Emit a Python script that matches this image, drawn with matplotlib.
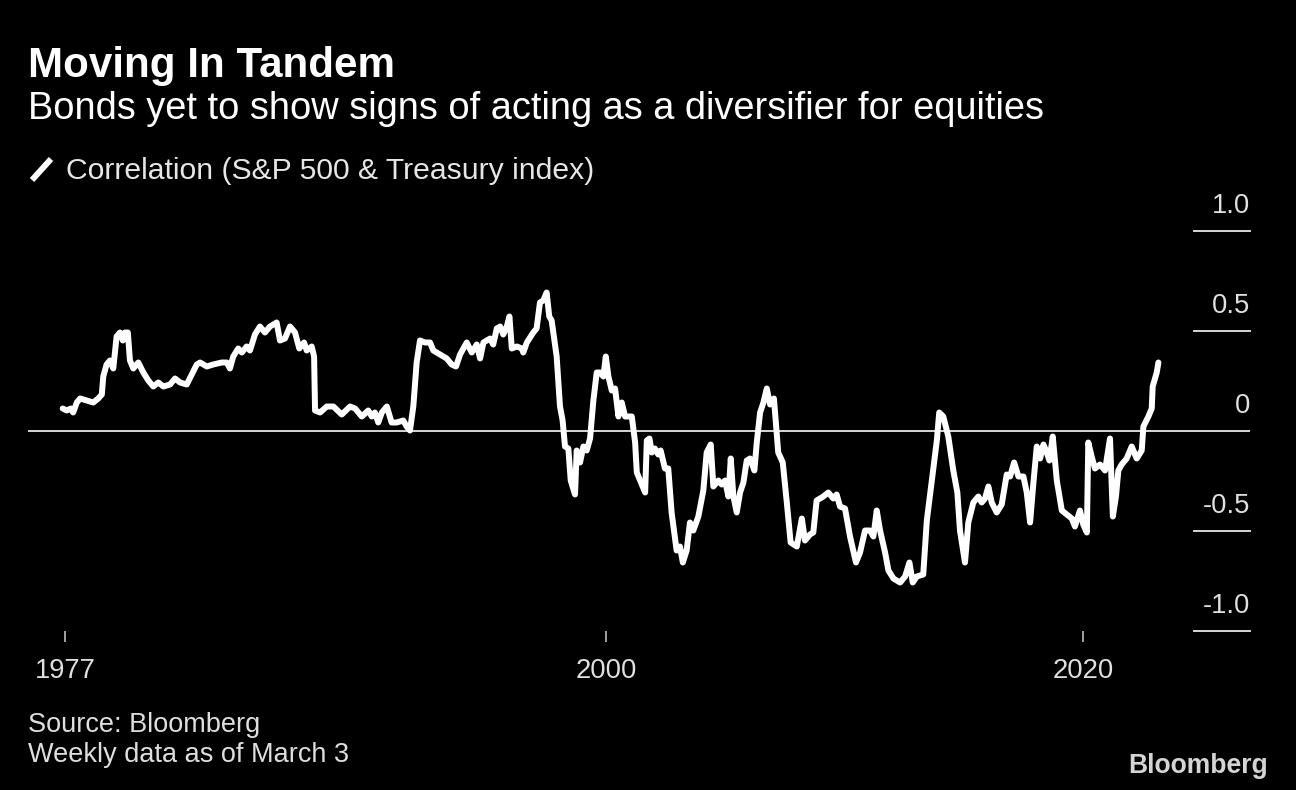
import matplotlib.pyplot as plt
from matplotlib.lines import Line2D

plt.rcParams['font.family'] = ['Liberation Sans', 'DejaVu Sans']

# ------------------------------------------------------------------
# DATI
# ------------------------------------------------------------------
years = [
    1977.22, 1977.39, 1977.56, 1977.66, 1977.81, 1977.95, 1978.23, 1978.50, 1978.71, 1978.86,
    1978.92, 1979.06, 1979.20, 1979.34, 1979.48, 1979.62, 1979.74, 1979.83, 1979.95, 1980.04,
    1980.18, 1980.39, 1980.60, 1980.81, 1981.02, 1981.23, 1981.44, 1981.72, 1981.93, 1982.14,
    1982.42, 1982.63, 1982.84, 1982.98, 1983.26, 1983.53, 1983.89, 1984.10, 1984.23, 1984.37,
    1984.58, 1984.73, 1984.93, 1985.07, 1985.28, 1985.49, 1985.70, 1985.91, 1986.05, 1986.19,
    1986.33, 1986.54, 1986.75, 1986.96, 1987.14, 1987.34, 1987.45, 1987.66, 1987.76, 1987.80,
    1988.01, 1988.29, 1988.57, 1988.92, 1989.27, 1989.48, 1989.76, 1990.03, 1990.18, 1990.31,
    1990.45, 1990.60, 1990.81, 1991.01, 1991.22, 1991.50, 1991.64, 1991.78, 1991.92, 1992.06,
    1992.20, 1992.41, 1992.62, 1992.76, 1993.04, 1993.32, 1993.53, 1993.71, 1993.88, 1994.16,
    1994.37, 1994.58, 1994.72, 1994.86, 1995.14, 1995.27, 1995.42, 1995.56, 1995.69, 1995.84,
    1995.95, 1996.05, 1996.26, 1996.47, 1996.53, 1996.68, 1996.95, 1997.09, 1997.23, 1997.37,
    1997.51, 1997.62, 1997.72, 1997.93, 1998.07, 1998.18, 1998.28, 1998.42, 1998.52, 1998.70,
    1998.77, 1998.91, 1999.05, 1999.19, 1999.33, 1999.47, 1999.61, 1999.75, 1999.89, 1999.99,
    2000.10, 2000.24, 2000.38, 2000.52, 2000.66, 2000.80, 2001.08, 2001.22, 2001.29, 2001.43,
    2001.64, 2001.71, 2001.82, 2001.92, 2002.05, 2002.19, 2002.29, 2002.47, 2002.61, 2002.75,
    2002.96, 2003.10, 2003.22, 2003.38, 2003.52, 2003.66, 2003.87, 2004.08, 2004.22, 2004.39,
    2004.50, 2004.71, 2004.85, 2004.99, 2005.13, 2005.23, 2005.34, 2005.48, 2005.62, 2005.76,
    2005.90, 2006.04, 2006.22, 2006.32, 2006.46, 2006.60, 2006.74, 2006.88, 2007.04, 2007.22,
    2007.41, 2007.58, 2007.74, 2008.00, 2008.21, 2008.34, 2008.55, 2008.69, 2008.83, 2009.11,
    2009.32, 2009.53, 2009.67, 2009.81, 2010.02, 2010.23, 2010.48, 2010.65, 2010.86, 2011.07,
    2011.21, 2011.35, 2011.49, 2011.70, 2011.84, 2012.05, 2012.33, 2012.54, 2012.72, 2012.86,
    2013.03, 2013.30, 2013.45, 2013.66, 2013.87, 2013.97, 2014.14, 2014.35, 2014.56, 2014.73,
    2014.84, 2015.05, 2015.19, 2015.40, 2015.61, 2015.75, 2015.89, 2016.03, 2016.17, 2016.38,
    2016.59, 2016.80, 2016.94, 2017.11, 2017.29, 2017.50, 2017.64, 2017.78, 2017.92, 2018.06,
    2018.20, 2018.34, 2018.48, 2018.59, 2018.73, 2018.90, 2019.11, 2019.32, 2019.53, 2019.66,
    2019.87, 2020.01, 2020.16, 2020.22, 2020.36, 2020.50, 2020.71, 2020.92, 2021.13, 2021.25,
    2021.38, 2021.48, 2021.62, 2021.83, 2022.04, 2022.25, 2022.46, 2022.53, 2022.74, 2022.88,
    2022.92, 2023.09, 2023.16,
]
corr = [
    0.11, 0.10, 0.11, 0.09, 0.14, 0.16, 0.15, 0.14, 0.16, 0.18,
    0.27, 0.33, 0.35, 0.31, 0.47, 0.49, 0.45, 0.49, 0.49, 0.35,
    0.31, 0.34, 0.29, 0.25, 0.22, 0.24, 0.22, 0.23, 0.26, 0.24,
    0.23, 0.28, 0.33, 0.34, 0.32, 0.33, 0.34, 0.34, 0.31, 0.37,
    0.41, 0.39, 0.42, 0.40, 0.48, 0.52, 0.49, 0.52, 0.53, 0.54,
    0.45, 0.46, 0.52, 0.49, 0.41, 0.44, 0.40, 0.42, 0.37, 0.10,
    0.09, 0.12, 0.12, 0.08, 0.12, 0.11, 0.07, 0.10, 0.07, 0.09,
    0.04, 0.09, 0.12, 0.04, 0.04, 0.05, 0.02, 0.00, 0.12, 0.34,
    0.45, 0.44, 0.44, 0.40, 0.38, 0.36, 0.33, 0.32, 0.38, 0.44,
    0.39, 0.43, 0.36, 0.44, 0.46, 0.43, 0.51, 0.52, 0.48, 0.52,
    0.57, 0.41, 0.42, 0.41, 0.39, 0.44, 0.49, 0.51, 0.64, 0.65,
    0.69, 0.57, 0.55, 0.37, 0.12, 0.05, -0.08, -0.09, -0.25, -0.32,
    -0.10, -0.16, -0.08, -0.10, -0.04, 0.15, 0.29, 0.29, 0.27, 0.37,
    0.27, 0.20, 0.21, 0.07, 0.14, 0.07, 0.07, -0.06, -0.21, -0.25,
    -0.31, -0.05, -0.04, -0.11, -0.09, -0.12, -0.10, -0.19, -0.19, -0.41,
    -0.60, -0.58, -0.66, -0.60, -0.46, -0.50, -0.43, -0.30, -0.11, -0.07,
    -0.28, -0.25, -0.27, -0.25, -0.33, -0.14, -0.33, -0.41, -0.31, -0.26,
    -0.15, -0.14, -0.20, -0.06, 0.09, 0.14, 0.21, 0.13, 0.16, -0.11,
    -0.16, -0.36, -0.56, -0.58, -0.44, -0.55, -0.52, -0.51, -0.35, -0.33,
    -0.31, -0.34, -0.32, -0.38, -0.39, -0.53, -0.66, -0.61, -0.50, -0.50,
    -0.53, -0.40, -0.50, -0.61, -0.70, -0.74, -0.76, -0.73, -0.66, -0.76,
    -0.73, -0.72, -0.45, -0.25, -0.05, 0.09, 0.07, -0.03, -0.20, -0.31,
    -0.50, -0.66, -0.46, -0.36, -0.33, -0.36, -0.34, -0.28, -0.36, -0.41,
    -0.37, -0.22, -0.23, -0.16, -0.23, -0.23, -0.31, -0.46, -0.26, -0.08,
    -0.14, -0.07, -0.11, -0.15, -0.03, -0.25, -0.40, -0.42, -0.44, -0.48,
    -0.40, -0.47, -0.51, -0.06, -0.13, -0.19, -0.17, -0.20, -0.04, -0.43,
    -0.33, -0.20, -0.17, -0.14, -0.08, -0.14, -0.10, 0.02, 0.07, 0.11,
    0.22, 0.29, 0.34,
]

x_ticks = [1977.32, 2000, 2020]
x_tick_labels = ['1977', '2000', '2020']
y_levels = [1.0, 0.5, 0.0, -0.5, -1.0]
y_level_labels = ['1.0', '0.5', '0', '-0.5', '-1.0']

# ------------------------------------------------------------------
# FIGURA
# ------------------------------------------------------------------
W, H = 1296, 790
fig = plt.figure(figsize=(W / 100, H / 100), dpi=100, facecolor='black')

ax = fig.add_axes([28 / W, 1 - 630.5 / H, (1250 - 28) / W, 400 / H])
ax.set_facecolor('black')
ax.set_xlim(1975.765, 2027.0)
ax.set_ylim(-1, 1)
for s in ax.spines.values():
    s.set_visible(False)

ax.plot(years, corr, color='white', lw=4.3,
        solid_joinstyle='round', solid_capstyle='round', zorder=3)
ax.axhline(0, color='#d6d6d6', lw=1.4, zorder=2)

# etichette asse y a destra, sopra brevi segmenti
ytrans = ax.get_yaxis_transform()
for v, lab in zip(y_levels, y_level_labels):
    if v != 0:
        ax.plot([0.954, 1.0], [v, v], transform=ytrans, color='#d6d6d6',
                lw=1.4, clip_on=False)
    ax.annotate(lab, xy=(1.0, v), xycoords=ytrans, xytext=(0, 12.5),
                textcoords='offset points', ha='right', va='baseline',
                color='#e0e0e0', fontsize=19.7)
ax.set_yticks([])

ax.set_xticks(x_ticks)
ax.set_xticklabels(x_tick_labels)
ax.tick_params(axis='x', direction='out', length=8, width=1.1, color='#cccccc',
               labelcolor='#e0e0e0', labelsize=19.7, pad=12)

# ------------------------------------------------------------------
# TESTI
# ------------------------------------------------------------------
fig.text(28 / W, 1 - 77 / H, 'Moving In Tandem', fontsize=30.3,
         fontweight='bold', color='white', va='baseline')
fig.text(28 / W, 1 - 119 / H,
         'Bonds yet to show signs of acting as a diversifier for equities',
         fontsize=27.4, color='white', va='baseline')

fig.add_artist(Line2D([32 / W, 51 / W], [1 - 180 / H, 1 - 159 / H],
                      color='white', lw=4.3, solid_capstyle='butt'))
fig.text(66 / W, 1 - 179 / H, 'Correlation (S&P 500 & Treasury index)',
         fontsize=21.7, color='#e6e6e6', va='baseline')

fig.text(28 / W, 1 - 732 / H, 'Source: Bloomberg', fontsize=19.5,
         color='#dedede', va='baseline')
fig.text(28 / W, 1 - 762 / H, 'Weekly data as of March 3', fontsize=19.5,
         color='#dedede', va='baseline')
fig.text(1268 / W, 1 - 772.7 / H, 'Bloomberg', fontsize=19.1,
         fontweight='bold', color='#d4d4d4', ha='right', va='baseline')

fig.savefig('out.png', dpi=100, facecolor='black')
